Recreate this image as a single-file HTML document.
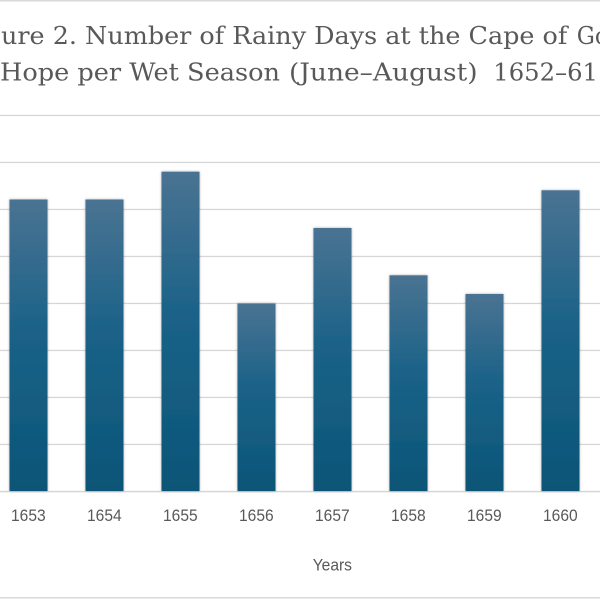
<!DOCTYPE html>
<html>
<head>
<meta charset="utf-8">
<style>
  html, body { margin: 0; padding: 0; background: #ffffff; }
  body { width: 600px; height: 600px; overflow: hidden; }
  svg { display: block; }
</style>
</head>
<body>
<svg width="600" height="600" viewBox="0 0 600 600" xmlns="http://www.w3.org/2000/svg">
  <defs>
    <linearGradient id="barg" x1="0" y1="0" x2="0" y2="1">
      <stop offset="0" stop-color="#4a7392"/>
      <stop offset="0.45" stop-color="#1b6288"/>
      <stop offset="1" stop-color="#0a5577"/>
    </linearGradient>
    <filter id="sh" x="-20%" y="-5%" width="140%" height="110%">
      <feDropShadow dx="0" dy="0" stdDeviation="1.4" flood-color="#000" flood-opacity="0.35"/>
    </filter>
  </defs>

  <rect x="0" y="0" width="600" height="600" fill="#ffffff"/>

  <!-- chart border top / bottom -->
  <rect x="0" y="0" width="600" height="1.5" fill="#d9d9d9"/>
  <rect x="0" y="597" width="600" height="1.5" fill="#d9d9d9"/>

  <!-- Title -->
  <g font-family="'DejaVu Serif', 'Liberation Serif', serif" font-size="24" fill="#595959">
    <text y="44"><tspan x="0" text-anchor="end">Fig</tspan></text>
    <text y="44" x="1" textLength="566.3" lengthAdjust="spacingAndGlyphs">ure 2. Number of Rainy Days at the Cape of</text>
    <text y="44" x="576.7" textLength="60" lengthAdjust="spacingAndGlyphs">Good</text>
    <text y="80.5" x="0" textLength="280" lengthAdjust="spacingAndGlyphs">Hope per Wet Season</text>
    <text y="80.5" x="289" textLength="188.6" lengthAdjust="spacingAndGlyphs">(June–August)</text>
    <text y="80.5" x="493.3" textLength="104.7" lengthAdjust="spacingAndGlyphs">1652–61</text>
  </g>

  <!-- gridlines -->
  <g fill="#d6d6d6">
    <rect x="0" y="114.8" width="600" height="1.3"/>
    <rect x="0" y="161.8" width="600" height="1.3"/>
    <rect x="0" y="208.8" width="600" height="1.3"/>
    <rect x="0" y="255.8" width="600" height="1.3"/>
    <rect x="0" y="302.8" width="600" height="1.3"/>
    <rect x="0" y="349.8" width="600" height="1.3"/>
    <rect x="0" y="396.8" width="600" height="1.3"/>
    <rect x="0" y="443.8" width="600" height="1.3"/>
    <rect x="0" y="490.8" width="600" height="1.5"/>
  </g>

  <!-- bars -->
  <g filter="url(#sh)">
    <rect x="9.5" y="199.5" width="38" height="291.5" fill="url(#barg)"/>
    <rect x="85.5" y="199.5" width="38" height="291.5" fill="url(#barg)"/>
    <rect x="161.5" y="171.7" width="38" height="319.3" fill="url(#barg)"/>
    <rect x="237.5" y="303.5" width="38" height="187.5" fill="url(#barg)"/>
    <rect x="313.5" y="228" width="38" height="263" fill="url(#barg)"/>
    <rect x="389.5" y="275.3" width="38" height="215.7" fill="url(#barg)"/>
    <rect x="465.5" y="294" width="38" height="197" fill="url(#barg)"/>
    <rect x="541.5" y="190.3" width="38" height="300.7" fill="url(#barg)"/>
  </g>

  <!-- x tick labels -->
  <g font-family="'Liberation Sans', sans-serif" font-size="16.5" fill="#595959">
    <text x="11" y="521" textLength="34.7" lengthAdjust="spacingAndGlyphs">1653</text>
    <text x="87" y="521" textLength="34.7" lengthAdjust="spacingAndGlyphs">1654</text>
    <text x="163" y="521" textLength="34.7" lengthAdjust="spacingAndGlyphs">1655</text>
    <text x="239" y="521" textLength="34.7" lengthAdjust="spacingAndGlyphs">1656</text>
    <text x="315" y="521" textLength="34.7" lengthAdjust="spacingAndGlyphs">1657</text>
    <text x="391" y="521" textLength="34.7" lengthAdjust="spacingAndGlyphs">1658</text>
    <text x="467" y="521" textLength="34.7" lengthAdjust="spacingAndGlyphs">1659</text>
    <text x="543" y="521" textLength="34.7" lengthAdjust="spacingAndGlyphs">1660</text>
  </g>

  <!-- axis title -->
  <text x="312.7" y="570.7" font-family="'Liberation Sans', sans-serif" font-size="17" fill="#595959" textLength="39.3" lengthAdjust="spacingAndGlyphs">Years</text>
</svg>
</body>
</html>
